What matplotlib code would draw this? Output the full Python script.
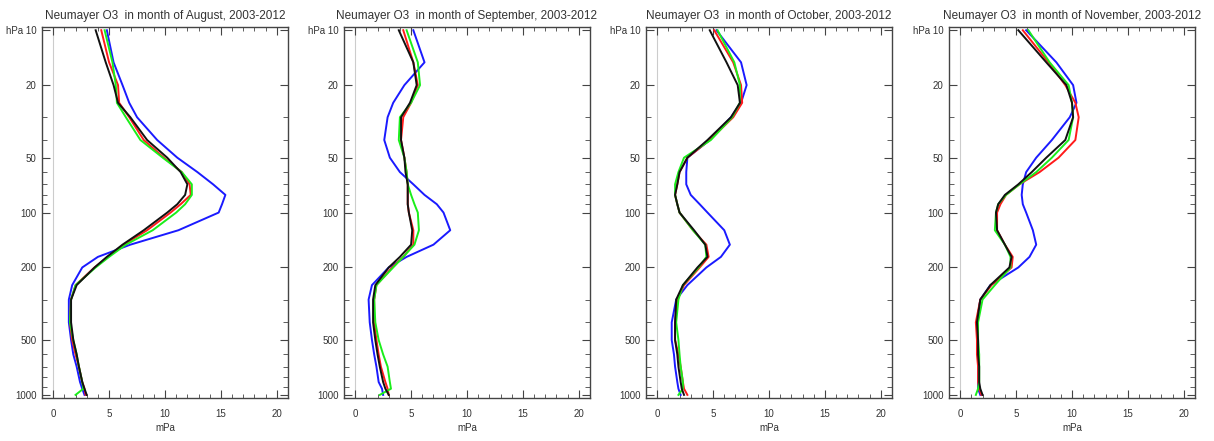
import matplotlib
matplotlib.use("Agg")
import matplotlib.pyplot as plt
from matplotlib.ticker import FixedLocator, LogLocator, MultipleLocator, NullFormatter

plt.rcParams["font.family"] = ["Liberation Sans", "DejaVu Sans"]

# pressure levels (hPa), bottom to top
levels = [1000, 925, 850, 700, 600, 500, 400, 300, 250, 200, 175, 150, 125,
          100, 90, 80, 70, 60, 50, 40, 30, 25, 20, 15, 10]

months = ["August", "September", "October", "November"]

# ozone partial pressure (mPa) per month, one list per coloured curve
aug_blue = [2.8, 2.6, 2.4, 2.1, 1.8, 1.6, 1.4, 1.4, 1.7, 2.6, 4.0, 6.9, 11.2,
            14.8, 15.1, 15.4, 14.3, 12.9, 11.1, 9.3, 7.5, 6.8, 6.2, 5.4, 4.8]
aug_red = [2.9, 2.8, 2.6, 2.3, 2.0, 1.7, 1.5, 1.6, 2.0, 3.7, 4.9, 6.3, 8.4,
           10.5, 11.4, 12.3, 12.2, 11.5, 9.9, 8.1, 6.8, 5.9, 5.8, 5.0, 4.3]
aug_green = [2.0, 2.7, 2.6, 2.3, 2.1, 1.8, 1.5, 1.6, 2.0, 3.8, 5.0, 6.5, 8.9,
             11.0, 11.8, 12.4, 12.4, 11.5, 9.8, 7.8, 6.5, 5.7, 5.6, 5.3, 4.6]
aug_black = [3.0, 2.8, 2.6, 2.3, 2.1, 1.8, 1.6, 1.6, 2.1, 3.7, 4.8, 6.2, 8.1,
             10.2, 11.1, 11.8, 12.0, 11.4, 10.2, 8.4, 6.9, 5.8, 5.4, 4.7, 3.8]

sep_blue = [2.5, 2.4, 2.1, 1.9, 1.7, 1.5, 1.3, 1.2, 1.5, 3.0, 4.6, 7.0, 8.5,
            7.9, 7.3, 6.2, 5.2, 4.0, 3.1, 2.6, 2.9, 3.4, 4.4, 6.2, 5.2]
sep_red = [3.0, 2.9, 2.7, 2.3, 2.1, 1.9, 1.7, 1.7, 1.9, 3.3, 4.3, 5.2, 5.2,
           4.8, 4.7, 4.7, 4.7, 4.6, 4.4, 4.1, 4.3, 5.0, 5.6, 5.2, 4.3]
sep_green = [2.2, 3.2, 3.1, 2.9, 2.5, 2.1, 1.8, 1.7, 1.9, 3.4, 4.3, 5.3, 5.7,
             5.6, 5.3, 5.0, 4.7, 4.6, 4.4, 3.9, 4.0, 5.0, 5.8, 5.6, 4.6]
sep_black = [3.0, 2.7, 2.5, 2.2, 2.0, 1.8, 1.6, 1.6, 1.8, 3.0, 4.0, 5.0, 5.1,
             4.8, 4.7, 4.7, 4.7, 4.5, 4.4, 4.1, 4.1, 4.9, 5.5, 5.2, 3.9]

oct_blue = [2.1, 1.9, 1.8, 1.6, 1.5, 1.3, 1.3, 1.7, 2.7, 4.4, 5.7, 6.5, 6.0,
            4.5, 3.8, 3.0, 2.6, 2.6, 2.7, 4.7, 6.6, 7.5, 8.0, 7.5, 5.3]
oct_red = [2.7, 2.4, 2.3, 2.1, 1.9, 1.6, 1.6, 1.8, 2.4, 3.8, 4.6, 4.4, 3.2,
           2.0, 1.8, 1.6, 1.8, 2.0, 2.7, 4.7, 6.8, 7.6, 7.5, 6.8, 5.1]
oct_green = [1.9, 2.3, 2.3, 2.1, 2.0, 1.9, 1.7, 1.9, 2.3, 3.7, 4.4, 4.3, 3.2,
             2.0, 1.8, 1.6, 1.6, 1.9, 2.4, 4.8, 6.7, 7.4, 7.4, 6.9, 5.4]
oct_black = [2.4, 2.2, 2.1, 1.9, 1.8, 1.6, 1.6, 1.7, 2.3, 3.6, 4.5, 4.3, 3.3,
             2.0, 1.8, 1.6, 1.8, 2.0, 2.7, 4.5, 6.6, 7.4, 7.2, 6.2, 4.7]

nov_blue = [1.8, 1.6, 1.6, 1.6, 1.6, 1.6, 1.5, 1.8, 2.7, 5.2, 6.2, 6.8, 6.5,
            5.9, 5.6, 5.5, 5.6, 5.9, 6.8, 8.2, 9.8, 10.4, 10.1, 8.6, 5.9]
nov_red = [1.9, 1.7, 1.6, 1.6, 1.5, 1.5, 1.4, 1.8, 2.8, 4.6, 4.7, 4.0, 3.3,
           3.3, 3.6, 4.1, 5.3, 7.1, 8.8, 10.3, 10.6, 10.3, 9.4, 7.9, 5.6]
nov_green = [1.4, 1.6, 1.7, 1.7, 1.7, 1.6, 1.6, 2.0, 3.1, 4.5, 4.5, 4.0, 3.1,
             3.2, 3.4, 4.1, 5.3, 6.8, 8.2, 9.7, 10.1, 10.0, 9.7, 8.0, 6.1]
nov_black = [2.0, 1.8, 1.7, 1.7, 1.6, 1.6, 1.5, 1.8, 2.7, 4.4, 4.6, 4.0, 3.3,
             3.2, 3.4, 4.0, 5.2, 6.4, 7.7, 9.4, 10.1, 10.0, 9.5, 7.7, 5.2]

series = [
    (aug_blue, aug_red, aug_green, aug_black),
    (sep_blue, sep_red, sep_green, sep_black),
    (oct_blue, oct_red, oct_green, oct_black),
    (nov_blue, nov_red, nov_green, nov_black),
]
colors = ["#1a1aff", "#ff1a1a", "#1aee1a", "#111111"]

ytick_vals = [10, 20, 50, 100, 200, 500, 1000]
ytick_labels = ["hPa 10", "20", "50", "100", "200", "500", "1000"]

fig = plt.figure(figsize=(12.14, 4.41), dpi=100)
lefts = [42, 344, 646, 949]
edge = "#444444"

for i, month in enumerate(months):
    ax = fig.add_axes([lefts[i] / 1214, 43 / 441, 246 / 1214, 371 / 441])
    ax.axvline(0, color="#cccccc", lw=0.8, zorder=1)
    for vals, c in zip(series[i], colors):
        ax.plot(vals, levels, color=c, lw=1.4, zorder=3)

    ax.set_yscale("log")
    ax.set_ylim(1040, 9.6)
    ax.set_xlim(-1, 21)
    ax.yaxis.set_major_locator(FixedLocator(ytick_vals))
    ax.set_yticklabels(ytick_labels)
    ax.yaxis.set_minor_locator(LogLocator(base=10, subs=range(1, 10)))
    ax.yaxis.set_minor_formatter(NullFormatter())
    ax.xaxis.set_major_locator(MultipleLocator(5))
    ax.xaxis.set_minor_locator(MultipleLocator(1))

    ax.tick_params(which="both", direction="in", top=True, right=True,
                   color=edge, labelcolor="#333333", labelsize=7)
    ax.tick_params(axis="y", which="major", length=6, pad=4)
    ax.tick_params(axis="y", which="minor", length=3.5)
    ax.tick_params(axis="x", which="major", length=6, pad=8)
    ax.tick_params(axis="x", which="minor", length=3)
    for s in ax.spines.values():
        s.set_color(edge)
        s.set_linewidth(1.0)

    ax.set_xlabel("mPa", fontsize=7, color="#333333", labelpad=3)
    ax.set_title(f"Neumayer O3  in month of {month}, 2003-2012",
                 fontsize=8.5, color="#333333", pad=6)

fig.savefig("out.png", dpi=100)
